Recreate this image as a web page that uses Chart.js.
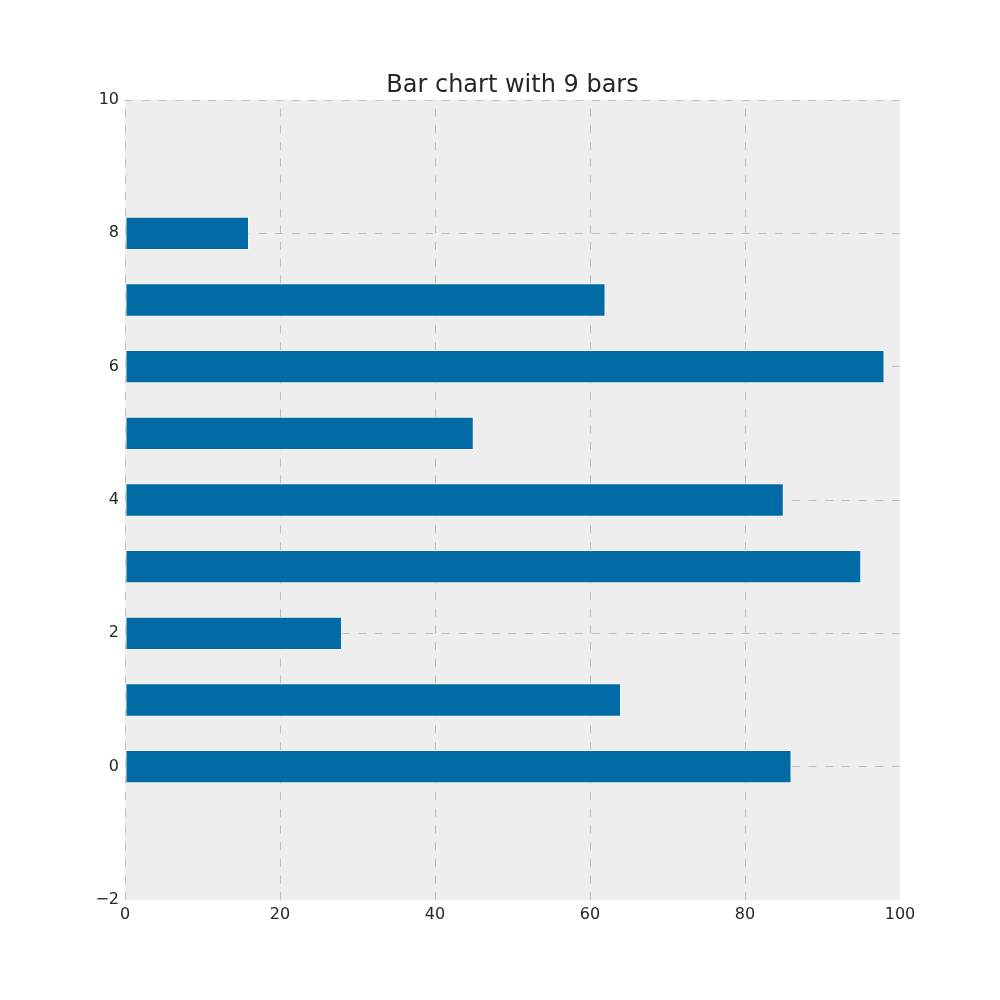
<!DOCTYPE html>
<html>
<head>
<meta charset="utf-8">
<script src="https://cdn.jsdelivr.net/npm/chart.js@4/dist/chart.umd.min.js"></script>
<style>
  html, body { margin: 0; padding: 0; background: #ffffff; }
  #chart { display: block; }
</style>
</head>
<body>
<canvas id="chart" width="1000" height="1000"></canvas>
<script>
// bar positions on the y axis and their lengths
const positions = [0, 1, 2, 3, 4, 5, 6, 7, 8];
const values = [86, 64, 28, 95, 85, 45, 98, 62, 16];
const xTicks = [0, 20, 40, 60, 80, 100];
const yTicks = [-2, 0, 2, 4, 6, 8, 10];

const titleText = 'Bar chart with 9 bars';

// plot area background, drawn before grid lines
const plotBackground = {
    id: 'plotBackground',
    beforeDraw(chart) {
        const { ctx, chartArea: a } = chart;
        ctx.save();
        ctx.fillStyle = '#eeeeee';
        ctx.fillRect(a.left, a.top, a.right - a.left, a.bottom - a.top);
        ctx.restore();
    }
};

const minus = v => String(v).replace('-', '\u2212');
// grid lines on the right and bottom edges get clipped away in the original
const gridColor = hidden => c => (c.tick && c.tick.value === hidden) ? 'rgba(0,0,0,0)' : '#bdbdbd';

Chart.defaults.font.family = '"DejaVu Sans", sans-serif';
Chart.defaults.color = '#262626';

new Chart(document.getElementById('chart'), {
    type: 'bar',
    data: {
        datasets: [{
            data: positions.map((p, i) => ({ x: values[i], y: p })),
            backgroundColor: '#006ba4',
            borderColor: 'rgba(255,255,255,0.55)',
            borderWidth: 1,
            borderSkipped: false,
            categoryPercentage: 1,
            barPercentage: 0.5
        }]
    },
    options: {
        indexAxis: 'y',
        responsive: false,
        animation: false,
        layout: { padding: { left: 60, right: 100, top: 71, bottom: 0 } },
        plugins: {
            legend: { display: false },
            tooltip: { enabled: false },
            title: {
                display: true,
                text: titleText,
                fullSize: false,
                font: { size: 24, weight: 'normal' },
                color: '#262626',
                padding: { top: 0, bottom: 0.2 }
            }
        },
        scales: {
            x: {
                type: 'linear',
                min: 0, max: 100,
                afterBuildTicks: s => { s.ticks = xTicks.map(v => ({ value: v })); },
                afterFit: s => { s.height = 100; },
                ticks: { font: { size: 16 }, padding: 5, callback: minus },
                grid: { color: gridColor(100), lineWidth: 1, drawTicks: false },
                border: { display: false, dash: [8, 8.67], dashOffset: 8 }
            },
            y: {
                type: 'linear',
                min: -2, max: 10,
                offset: false,
                afterBuildTicks: s => { s.ticks = yTicks.map(v => ({ value: v })); },
                afterFit: s => { s.width = 65; },
                ticks: { font: { size: 16 }, padding: 6, callback: minus },
                grid: { color: gridColor(-2), lineWidth: 1, drawTicks: false, offset: false },
                border: { display: false, dash: [8, 8.67], dashOffset: 0 }
            }
        }
    },
    plugins: [plotBackground]
});
</script>
</body>
</html>
